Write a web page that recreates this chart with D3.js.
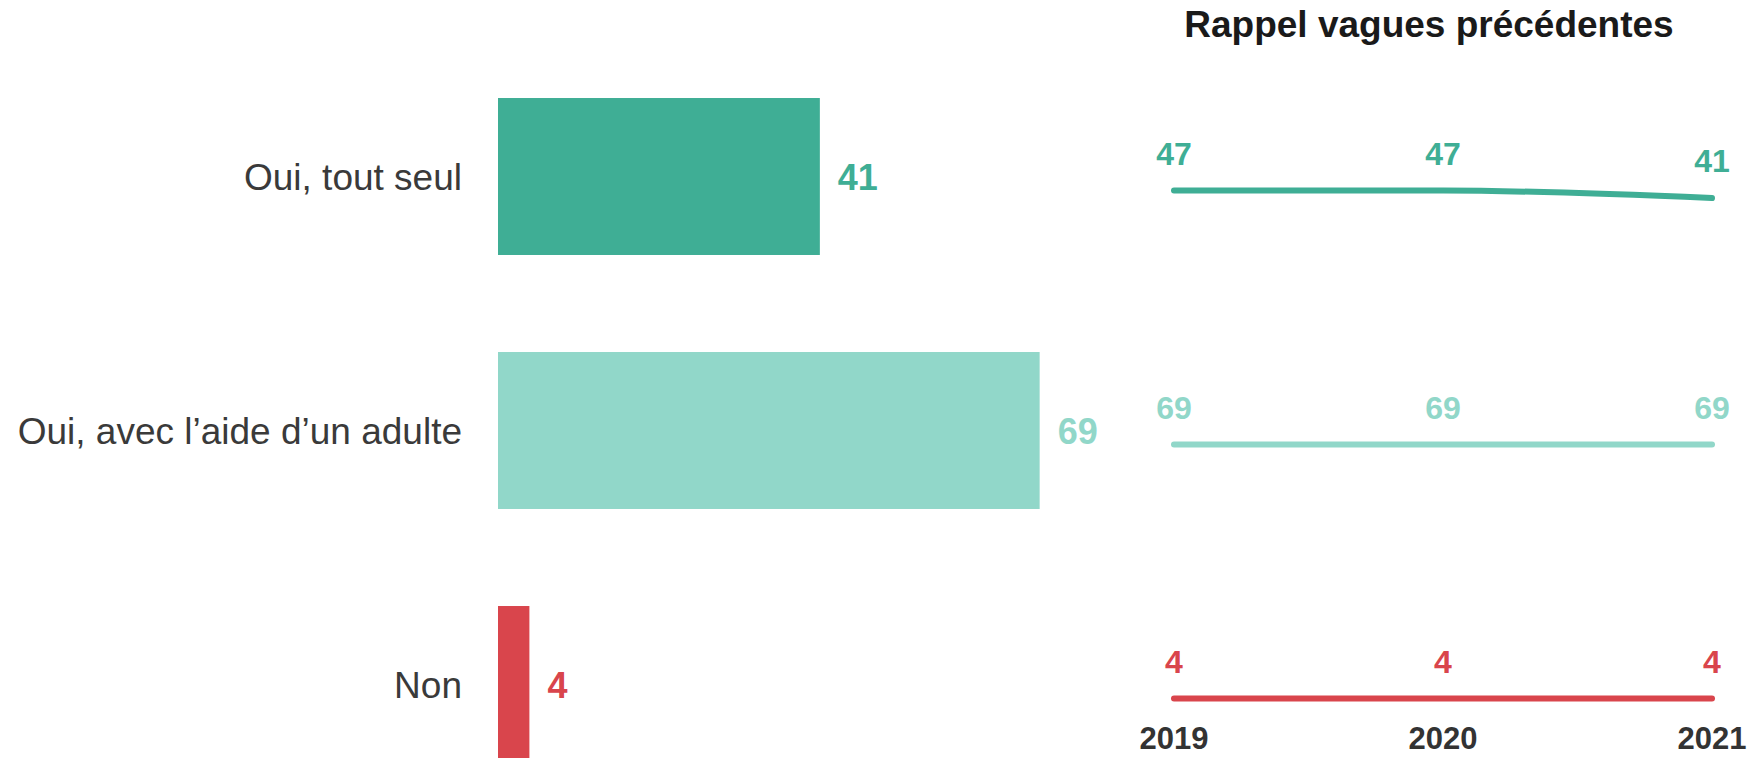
<!DOCTYPE html>
<html>
<head>
<meta charset="utf-8">
<script src="https://cdn.jsdelivr.net/npm/d3@7"></script>
<style>
  body { margin: 0; background: #fff; }
  svg { display: block; font-family: "Liberation Sans", Arial, sans-serif; }
</style>
</head>
<body>
<div id="chart-area"></div>
<script>
const WIDTH = 1754
const HEIGHT = 758

// data
const categories = ["Oui, tout seul", "Oui, avec l\u2019aide d\u2019un adulte", "Non"]
const values2021 = [41, 69, 4]
const colors = ["#3fae95", "#91d7c9", "#d9454c"]
const years = ["2019", "2020", "2021"]
const history = [
  [47, 47, 41],
  [69, 69, 69],
  [4, 4, 4]
]

const svg = d3.select("#chart-area").append("svg")
  .attr("width", WIDTH)
  .attr("height", HEIGHT)

const y = d3.scaleBand()
  .domain(categories)
  .range([49.5, 811.5])
  .paddingInner(0.382)
  .paddingOuter(0.191)

const x = d3.scaleLinear()
  .domain([0, 100])
  .range([498, 498 + 785])

const rows = categories.map((c, i) => ({ name: c, value: values2021[i], color: colors[i], hist: history[i] }))

// bars
svg.selectAll("rect.bar")
  .data(rows)
  .enter().append("rect")
  .attr("class", "bar")
  .attr("x", x(0))
  .attr("y", d => y(d.name))
  .attr("width", d => x(d.value) - x(0))
  .attr("height", y.bandwidth())
  .attr("fill", d => d.color)

// category labels
svg.selectAll("text.cat")
  .data(rows)
  .enter().append("text")
  .attr("class", "cat")
  .attr("x", 462)
  .attr("y", d => y(d.name) + y.bandwidth() / 2 + 13)
  .attr("text-anchor", "end")
  .style("font-size", "37px")
  .attr("fill", "#3a3a3a")
  .text(d => d.name)

// value labels
svg.selectAll("text.val")
  .data(rows)
  .enter().append("text")
  .attr("class", "val")
  .attr("x", d => x(d.value) + 18)
  .attr("y", d => y(d.name) + y.bandwidth() / 2 + 13)
  .style("font-size", "36px")
  .style("font-weight", "bold")
  .attr("fill", d => d.color)
  .text(d => d.value)

// Title
svg.append("text")
  .attr("x", 1429)
  .attr("y", 37)
  .attr("text-anchor", "middle")
  .style("font-size", "37px")
  .style("font-weight", "bold")
  .attr("fill", "#1a1a1a")
  .text("Rappel vagues précédentes")

// small trend lines
const xt = d3.scalePoint()
  .domain(years)
  .range([1174, 1712])

rows.forEach(r => {
  const mid = y(r.name) + y.bandwidth() / 2 + 14
  const yt = d3.scaleLinear()
    .domain([r.hist[0] - 10, r.hist[0] + 10])
    .range([mid + 12.5, mid - 12.5])

  const line = d3.line()
    .x((d, i) => xt(years[i]))
    .y(d => yt(d))
    .curve(d3.curveMonotoneX)

  svg.append("path")
    .datum(r.hist)
    .attr("d", line)
    .attr("fill", "none")
    .attr("stroke", r.color)
    .attr("stroke-width", 6)
    .attr("stroke-linecap", "round")

  svg.selectAll(null)
    .data(r.hist)
    .enter().append("text")
    .attr("x", (d, i) => xt(years[i]))
    .attr("y", d => yt(d) - 26)
    .attr("text-anchor", "middle")
    .style("font-size", "32px")
    .style("font-weight", "bold")
    .attr("fill", r.color)
    .text(d => d)
})

// year axis labels
svg.selectAll("text.year")
  .data(years)
  .enter().append("text")
  .attr("class", "year")
  .attr("x", d => xt(d))
  .attr("y", 749)
  .attr("text-anchor", "middle")
  .style("font-size", "31px")
  .style("font-weight", "bold")
  .attr("fill", "#333")
  .text(d => d)
</script>
</body>
</html>
